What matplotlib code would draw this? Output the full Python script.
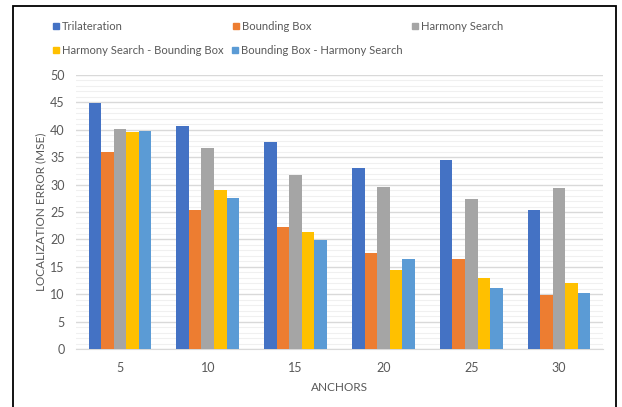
import numpy as np
import matplotlib.pyplot as plt
from matplotlib.patches import Rectangle

plt.rcParams['font.family'] = ['Lato', 'DejaVu Sans']

anchors = ['5', '10', '15', '20', '25', '30']
series_names = ['Trilateration', 'Bounding Box', 'Harmony Search',
                'Harmony Search - Bounding Box', 'Bounding Box - Harmony Search']
trilateration = [44.9, 40.7, 37.7, 33.1, 34.5, 25.4]
bounding_box = [35.9, 25.4, 22.3, 17.6, 16.4, 9.8]
harmony_search = [40.1, 36.6, 31.7, 29.5, 27.3, 29.3]
hs_bb = [39.6, 29.0, 21.4, 14.5, 12.9, 12.0]
bb_hs = [39.8, 27.6, 19.9, 16.4, 11.2, 10.3]
colors = ['#4472C4', '#ED7D31', '#A5A5A5', '#FFC000', '#5B9BD5']

series = [trilateration, bounding_box, harmony_search, hs_bb, bb_hs]

W, H = 622, 407
fig = plt.figure(figsize=(W / 100, H / 100), dpi=100)
ax = fig.add_axes([76 / W, 1 - 349 / H, (603 - 76) / W, (349 - 75) / H])

x = np.arange(len(anchors))
width = 1 / 7
for i, (vals, c) in enumerate(zip(series, colors)):
    ax.bar(x + (i - 2) * width, vals, width, color=c, zorder=3)

ax.set_xlim(-0.5, len(anchors) - 0.5)
ax.set_ylim(0, 50)
ax.set_yticks(np.arange(0, 51, 5))
ax.set_yticks(np.arange(0, 51, 1), minor=True)
ax.set_xticks(x)
ax.set_xticklabels(anchors)
ax.grid(axis='y', which='major', color='#d9d9d9', linewidth=1.0, zorder=0)
ax.grid(axis='y', which='minor', color='#f0f0f0', linewidth=0.8, zorder=0)
for s in ['top', 'right', 'left']:
    ax.spines[s].set_visible(False)
ax.spines['bottom'].set_color('#d9d9d9')
ax.tick_params(axis='both', which='both', length=0, colors='#595959', labelsize=9)
ax.tick_params(axis='x', pad=9)
ax.tick_params(axis='y', pad=8)
ax.set_xlabel('ANCHORS', color='#595959', fontsize=8.5, labelpad=6)
ax.set_ylabel('LOCALIZATION ERROR (MSE)', color='#595959', fontsize=8.5, labelpad=3)

# legend laid out by hand in two rows
legend_pos = [(53, 26), (233, 26), (412, 26), (53, 50), (232, 50)]
for (px, py), name, c in zip(legend_pos, series_names, colors):
    fig.patches.append(Rectangle((px / W, 1 - (py + 2.5) / H), 5.5 / W, 5.5 / H,
                                 transform=fig.transFigure, color=c))
    fig.text((px + 9) / W, 1 - py / H, name, color='#595959', fontsize=8.1,
             va='center', ha='left')

# outer frame
fig.patches.append(Rectangle((13 / W, -0.05), (616 - 13) / W, 1 - 5.5 / H + 0.05,
                             transform=fig.transFigure, fill=False,
                             edgecolor='black', linewidth=1.3))

fig.savefig('out.png', dpi=100)
